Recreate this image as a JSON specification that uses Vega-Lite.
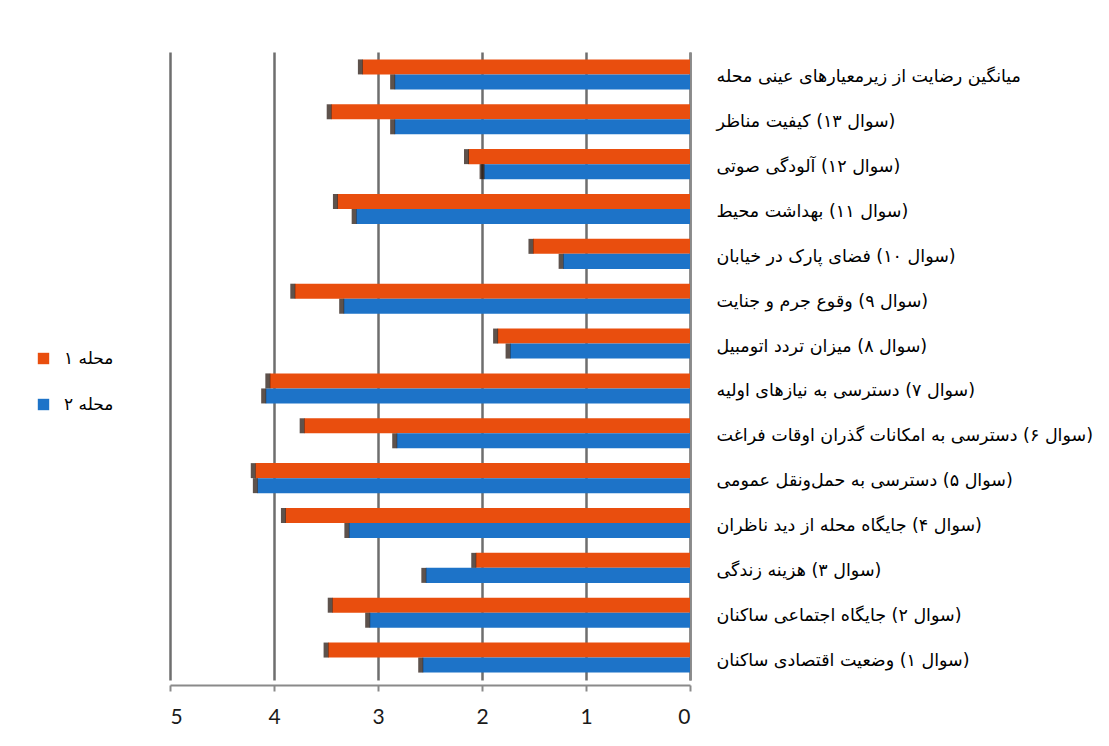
{
  "$schema": "https://vega.github.io/schema/vega-lite/v6.json",
  "width": 520,
  "height": 628,
  "autosize": {"type": "none"},
  "padding": {"left": 170, "top": 52, "right": 419, "bottom": 66},
  "background": "white",
  "config": {"view": {"stroke": null}, "font": "DejaVu Sans"},
  "data": {
    "values": [
      {"q": "\u200fمیانگین رضایت از زیرمعیارهای عینی محله", "n": "محله ۱", "v": 3.15},
      {"q": "\u200fمیانگین رضایت از زیرمعیارهای عینی محله", "n": "محله ۲", "v": 2.84},
      {"q": "\u200f(سوال ۱۳) کیفیت مناظر", "n": "محله ۱", "v": 3.45},
      {"q": "\u200f(سوال ۱۳) کیفیت مناظر", "n": "محله ۲", "v": 2.84},
      {"q": "\u200f(سوال ۱۲) آلودگی صوتی", "n": "محله ۱", "v": 2.13},
      {"q": "\u200f(سوال ۱۲) آلودگی صوتی", "n": "محله ۲", "v": 1.98},
      {"q": "\u200f(سوال ۱۱) بهداشت محیط", "n": "محله ۱", "v": 3.39},
      {"q": "\u200f(سوال ۱۱) بهداشت محیط", "n": "محله ۲", "v": 3.21},
      {"q": "\u200f(سوال ۱۰) فضای پارک در خیابان", "n": "محله ۱", "v": 1.51},
      {"q": "\u200f(سوال ۱۰) فضای پارک در خیابان", "n": "محله ۲", "v": 1.22},
      {"q": "\u200f(سوال ۹) وقوع جرم و جنایت", "n": "محله ۱", "v": 3.80},
      {"q": "\u200f(سوال ۹) وقوع جرم و جنایت", "n": "محله ۲", "v": 3.33},
      {"q": "\u200f(سوال ۸) میزان تردد اتومبیل", "n": "محله ۱", "v": 1.85},
      {"q": "\u200f(سوال ۸) میزان تردد اتومبیل", "n": "محله ۲", "v": 1.73},
      {"q": "\u200f(سوال ۷) دسترسی به نیازهای اولیه", "n": "محله ۱", "v": 4.04},
      {"q": "\u200f(سوال ۷) دسترسی به نیازهای اولیه", "n": "محله ۲", "v": 4.08},
      {"q": "\u200f(سوال ۶) دسترسی به امکانات گذران اوقات فراغت", "n": "محله ۱", "v": 3.71},
      {"q": "\u200f(سوال ۶) دسترسی به امکانات گذران اوقات فراغت", "n": "محله ۲", "v": 2.82},
      {"q": "\u200f(سوال ۵) دسترسی به حمل\u200cونقل عمومی", "n": "محله ۱", "v": 4.18},
      {"q": "\u200f(سوال ۵) دسترسی به حمل\u200cونقل عمومی", "n": "محله ۲", "v": 4.16},
      {"q": "\u200f(سوال ۴) جایگاه محله از دید ناظران", "n": "محله ۱", "v": 3.89},
      {"q": "\u200f(سوال ۴) جایگاه محله از دید ناظران", "n": "محله ۲", "v": 3.28},
      {"q": "\u200f(سوال ۳) هزینه زندگی", "n": "محله ۱", "v": 2.06},
      {"q": "\u200f(سوال ۳) هزینه زندگی", "n": "محله ۲", "v": 2.54},
      {"q": "\u200f(سوال ۲) جایگاه اجتماعی ساکنان", "n": "محله ۱", "v": 3.44},
      {"q": "\u200f(سوال ۲) جایگاه اجتماعی ساکنان", "n": "محله ۲", "v": 3.08},
      {"q": "\u200f(سوال ۱) وضعیت اقتصادی ساکنان", "n": "محله ۱", "v": 3.48},
      {"q": "\u200f(سوال ۱) وضعیت اقتصادی ساکنان", "n": "محله ۲", "v": 2.57}
    ]
  },
  "encoding": {
    "y": {
      "field": "q",
      "type": "nominal",
      "sort": null,
      "scale": {"paddingInner": 0.33, "paddingOuter": 0.165},
      "axis": {
        "title": null,
        "orient": "right",
        "labelAlign": "left",
        "labelPadding": 26,
        "labelOffset": 3,
        "labelFont": "DejaVu Sans",
        "labelFontSize": 17.5,
        "labelColor": "#000000",
        "labelLimit": 500,
        "ticks": false,
        "domainColor": "#8a8a8a",
        "domainWidth": 2,
        "grid": false
      }
    },
    "yOffset": {"field": "n", "type": "nominal", "sort": ["محله ۱", "محله ۲"]},
    "x": {
      "field": "v",
      "type": "quantitative",
      "scale": {"domain": [0, 5], "reverse": true, "nice": false},
      "axis": {
        "title": null,
        "orient": "bottom",
        "values": [0, 1, 2, 3, 4, 5],
        "format": "d",
        "offset": 5,
        "grid": true,
        "gridColor": "#6e6e6e",
        "gridWidth": 2.5,
        "domainColor": "#8a8a8a",
        "domainWidth": 2,
        "tickColor": "#8a8a8a",
        "tickSize": 6,
        "tickWidth": 2,
        "labelFont": "Lato",
        "labelFontSize": 21,
        "labelColor": "#1a1a1a",
        "labelPadding": 15
      }
    }
  },
  "layer": [
    {
      "mark": {"type": "bar"},
      "encoding": {
        "color": {
          "field": "n",
          "type": "nominal",
          "scale": {"domain": ["محله ۱", "محله ۲"], "range": ["#E94E0E", "#1D73C8"]},
          "legend": {
            "title": null,
            "orient": "none",
            "legendX": -135,
            "legendY": 298,
            "symbolType": "square",
            "symbolSize": 130,
            "symbolStrokeWidth": 0,
            "labelFont": "DejaVu Sans",
            "labelFontSize": 17,
            "labelColor": "#000000",
            "labelOffset": 12,
            "rowPadding": 28
          }
        }
      }
    },
    {
      "mark": {"type": "tick", "thickness": 5, "size": 15, "color": "#1a0800", "xOffset": -2}
    }
  ]
}
